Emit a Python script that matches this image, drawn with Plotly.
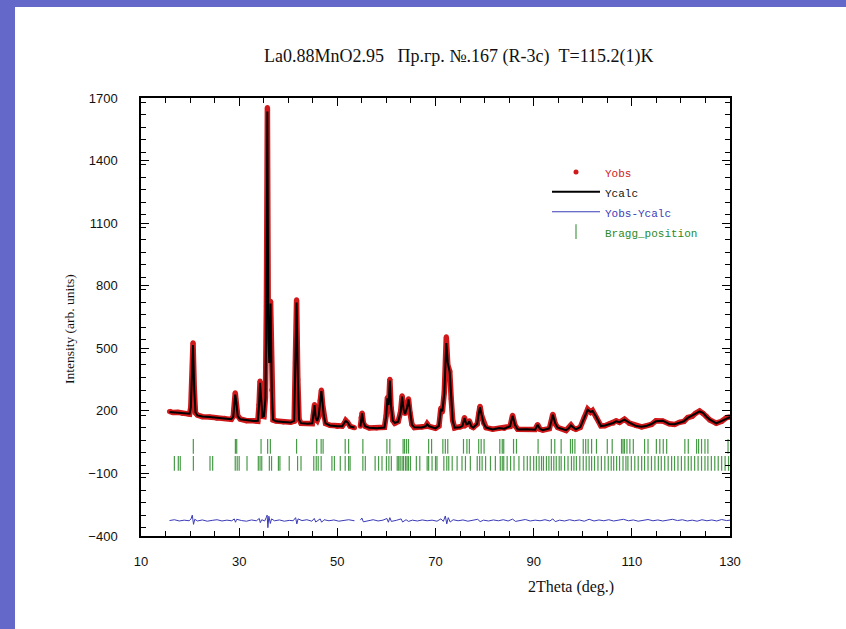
import plotly.graph_objects as go

# ---------------- data ----------------
two_theta = [15.8, 16.5, 17.5, 18.5, 19.5, 19.9, 20.15, 20.35, 20.6, 20.85, 21.1, 21.5, 22.5, 24.0, 25.5,
             27.0, 28.4, 28.8, 29.0, 29.2, 29.45, 29.7, 30.2, 31.5, 33.0, 33.8, 34.05, 34.25, 34.5, 34.75,
             35.05, 35.35, 35.55, 35.75, 35.95, 36.15, 36.4, 36.65, 36.9, 37.5, 39.0, 40.5, 41.2, 41.45,
             41.7, 41.95, 42.2, 42.6, 44.0, 44.9, 45.1, 45.35, 45.6, 45.9, 46.2, 46.5, 46.75, 47.0, 47.25,
             47.6, 48.5, 50.0, 51.0, 51.4, 51.7, 52.1, 52.6, 53.5, 54.1, 54.7, 54.85, 55.05, 55.3, 55.7,
             56.5, 58.0, 59.6, 59.95, 60.2, 60.45, 60.7, 60.95, 61.3, 61.7, 62.4, 62.9, 63.2, 63.5, 63.8,
             64.2, 64.5, 64.8, 65.2, 65.7, 67.2, 68.0, 68.3, 68.7, 70.0, 70.7, 71.1, 71.4, 71.8, 72.2, 72.5,
             72.9, 73.2, 73.5, 73.9, 75.0, 75.5, 75.9, 76.3, 76.6, 76.9, 77.3, 77.7, 78.5, 78.8, 79.07, 79.4,
             79.8, 80.3, 81.65, 83.0, 84.0, 85.2, 85.7, 86.2, 86.75, 88.5, 90.3, 90.8, 91.3, 91.85, 93.2,
             93.6, 93.9, 94.4, 94.9, 96.6, 97.2, 97.6, 98.1, 98.6, 99.5, 100.3, 101.0, 101.6, 102.0, 102.7,
             103.7, 104.5, 105.4, 106.2, 106.8, 107.5, 108.5, 109.5, 110.9, 112.0, 112.9, 114.0, 114.9,
             116.3, 117.6, 118.7, 119.7, 120.6, 121.4, 122.3, 123.0, 123.8, 124.5, 125.2, 125.9, 127.2,
             128.3, 129.3, 130.0]

y_calc = [195, 193, 191, 188, 185, 186, 215, 330, 515, 300, 192, 178, 173, 170, 166,
          163, 160, 172, 215, 278, 235, 175, 160, 155, 151, 152, 225, 335, 235, 172,
          175, 260, 720, 1635, 540, 430, 715, 290, 158, 150, 147, 144, 152, 420,
          720, 360, 158, 141, 138, 140, 175, 228, 165, 152, 175, 245, 295, 235, 175,
          140, 130, 126, 126, 142, 152, 145, 125, 120, None, 125, 165, 188, 145, 125,
          119, 117, 120, 175, 260, 228, 345, 220, 152, 142, 148, 195, 268, 205, 185,
          215, 255, 195, 133, 121, 120, 126, 136, 126, 116, 128, 210, 198, 285, 525, 430,
          385, 262, 152, 119, 121, 128, 165, 136, 138, 150, 126, 119, 138, 185, 218, 180,
          140, 120, 111, 118, 114, 126, 176, 132, 111, 112, 110, 133, 113, 107, 116,
          150, 181, 140, 119, 107, 118, 130, 118, 111, 122, 166, 205, 195, 199, 173,
          127, 130, 135, 142, 150, 146, 158, 143, 127, 124, 127, 137, 150,
          153, 137, 136, 143, 150, 166, 176, 187, 197, 190, 172, 158, 140,
          152, 166, 170]

y_obs = [197, 192, 193, 187, 186, 184, 218, 334, 527, 306, 190, 180, 172, 171, 165,
         164, 159, 174, 212, 287, 230, 177, 161, 153, 152, 150, 228, 343, 230, 174,
         173, 264, 700, 1655, 520, 440, 725, 300, 156, 151, 146, 145, 150, 430,
         733, 350, 160, 140, 139, 139, 178, 230, 162, 154, 172, 250, 300, 230, 177,
         139, 131, 125, 127, 140, 154, 144, 126, 119, None, 126, 168, 190, 142, 126,
         118, 118, 121, 178, 264, 225, 352, 215, 154, 141, 149, 197, 272, 200, 187,
         218, 258, 192, 135, 120, 121, 125, 138, 125, 117, 127, 214, 195, 290, 555, 420,
         390, 258, 155, 118, 122, 127, 168, 134, 139, 152, 125, 120, 137, 188, 222, 177,
         141, 119, 112, 117, 115, 125, 179, 130, 112, 111, 111, 135, 112, 108, 115,
         153, 184, 138, 120, 106, 119, 132, 117, 112, 121, 168, 208, 193, 201, 171,
         128, 129, 137, 140, 152, 145, 160, 141, 128, 123, 128, 135, 152,
         151, 138, 135, 145, 149, 168, 174, 189, 199, 188, 174, 156, 141,
         150, 168, 171]

diff_theta = [15.8, 16.8, 17.8, 18.8, 19.8, 20.2, 20.45, 20.7, 20.95, 21.5, 22.5, 23.5, 24.5, 25.5,
              26.5, 27.5, 28.5, 29.0, 29.25, 29.5, 30.5, 31.5, 32.5, 33.5, 34.1, 34.3, 34.6, 35.2,
              35.5, 35.7, 35.85, 36.05, 36.35, 36.6, 37.2, 38.2, 39.2, 40.2, 41.0, 41.5, 41.75, 42.0,
              42.8, 43.8, 44.8, 45.3, 45.6, 46.5, 46.8, 47.3, 48.3, 49.3, 50.3, 51.3, 52.3, 53.5,
              54.1, 54.7, 55.0, 55.3, 56.3, 57.3, 58.3, 59.3, 60.1, 60.4, 60.7, 61.0, 62.0, 63.0,
              63.3, 64.0, 64.5, 65.3, 66.3, 67.3, 68.3, 69.3, 70.3, 71.1, 71.6, 72.0, 72.3, 72.6,
              73.0, 73.6, 74.6, 75.6, 76.6, 77.6, 78.6, 79.1, 79.8, 80.8, 81.8, 82.8, 83.8, 84.8,
              85.7, 86.3, 87.3, 88.3, 89.3, 90.3, 91.3, 92.3, 93.3, 93.9, 94.4, 95.3, 96.3, 97.3,
              98.3, 99.3, 100.3, 101.3, 102.3, 103.3, 104.3, 105.3, 106.3, 107.3, 108.3, 109.3,
              110.3, 111.3, 112.3, 113.3, 114.3, 115.3, 116.3, 117.3, 118.3, 119.3, 120.3, 121.3,
              122.3, 123.3, 124.3, 125.3, 126.3, 127.3, 128.3, 129.3, 130.0]

y_diff = [-326, -322, -328, -324, -327, -318, -300, -344, -320, -328, -323, -329, -325, -322,
          -328, -324, -327, -318, -334, -320, -326, -329, -323, -327, -316, -336, -322, -328,
          -312, -300, -360, -305, -340, -318, -327, -323, -329, -325, -327, -312, -342, -318,
          -326, -322, -329, -316, -333, -318, -334, -322, -327, -323, -329, -325, -322, -327,
          None, -324, -314, -332, -326, -322, -328, -324, -316, -334, -312, -330, -325, -318,
          -333, -322, -330, -324, -328, -323, -327, -324, -329, -318, -330, -304, -342, -312,
          -333, -322, -327, -323, -329, -324, -320, -331, -324, -328, -323, -327, -322, -328,
          -319, -330, -325, -321, -328, -324, -327, -322, -328, -318, -331, -324, -328, -322,
          -327, -323, -329, -320, -328, -323, -327, -322, -328, -324, -320, -327,
          -323, -329, -324, -321, -327, -323, -328, -324, -320, -326, -322, -328,
          -324, -329, -322, -327, -323, -328, -321, -326, -324]

bragg_phase1 = [20.66, 29.23, 29.5, 34.46, 35.8, 36.36, 41.7, 45.8, 46.7, 47.1, 51.6, 52.3, 55.2,
                60.1, 60.7, 63.4, 63.7, 64.1, 64.5, 68.6, 69.2, 71.5, 72.0, 72.5, 75.7, 76.4, 76.9,
                78.8, 79.3, 79.9, 83.1, 83.6, 83.9, 85.9, 86.5, 90.9, 93.6, 94.3, 95.6, 97.5, 97.9,
                98.4, 100.1, 100.6, 101.1, 101.8, 102.8, 105.0, 106.0, 107.9, 108.2, 108.5, 109.0,
                109.6, 110.3, 112.6, 113.3, 115.0, 115.7, 116.4, 117.1, 120.8, 121.5, 123.2, 123.6,
                124.2, 124.9, 125.5, 129.6]

bragg_phase2 = [16.8, 17.6, 18.0, 20.67, 24.06, 24.6, 29.2, 29.6, 30.0, 31.6, 33.9, 34.25, 34.6,
                36.15, 36.6, 38.0, 38.3, 40.2, 41.9, 42.6, 45.2, 45.7, 46.1, 46.7, 48.9, 49.4, 50.6,
                51.6, 52.3, 52.6, 55.2, 55.7, 57.7, 58.4, 59.1, 60.0, 60.5, 61.0, 62.2, 62.5, 62.8,
                63.2, 63.5, 63.9, 64.2, 64.5, 64.9, 66.1, 66.8, 68.3, 68.6, 69.3, 70.0, 70.3, 71.7,
                72.3, 72.7, 73.4, 74.4, 75.4, 76.1, 77.1, 78.5, 79.0, 79.5, 80.2, 81.2, 82.2, 83.2,
                83.6, 83.9, 84.6, 85.3, 86.0, 87.0, 88.0, 88.7, 89.3, 90.0, 90.55, 91.1, 91.6, 92.0,
                92.6, 93.1, 93.6, 94.1, 94.6, 95.2, 95.6, 96.3, 97.0, 97.7, 98.2, 98.7, 99.4, 100.1,
                100.7, 101.3, 101.8, 102.4, 103.1, 103.8, 104.5, 105.2, 105.8, 106.3, 106.9, 107.5,
                108.2, 108.8, 109.2, 109.9, 110.6, 111.3, 112.0, 112.6, 113.3, 114.0, 114.7, 115.4,
                116.0, 116.7, 117.4, 118.1, 118.7, 119.4, 120.1, 120.8, 121.5, 122.1, 122.8, 123.5,
                124.2, 124.9, 125.5, 126.2, 126.9, 127.6, 128.3, 129.0, 129.7]

bragg_levels = [30, -52]

title_text = "La0.88MnO2.95   Пр.гр. №.167 (R-3c)  T=115.2(1)K"
x_title = "2Theta (deg.)"
y_title = "Intensity (arb. units)"

# ---------------- figure ----------------
W, H = 846, 629
L, R, T, B = 141, 730, 98, 536

RED = "#d0191b"
GREEN = "rgba(25,130,25,0.8)"
BLUE = "#3b3bb8"

def lg(txt, color):
    return '<span style="color:%s;font-size:11px">%s</span>' % (color, txt)

fig = go.Figure()

# Yobs band (dense observed points)
fig.add_trace(go.Scatter(x=two_theta, y=y_obs, mode="lines",
                         line=dict(color=RED, width=5.5), showlegend=False, hoverinfo="skip"))
fig.add_trace(go.Scatter(x=two_theta, y=y_obs, mode="markers",
                         marker=dict(color=RED, size=5),
                         name=lg("Yobs", "#d0191b")))
fig.add_trace(go.Scatter(x=two_theta, y=y_calc, mode="lines",
                         line=dict(color="black", width=2),
                         name=lg("Ycalc", "#111111")))
fig.add_trace(go.Scatter(x=diff_theta, y=y_diff, mode="lines",
                         line=dict(color=BLUE, width=1),
                         name=lg("Yobs-Ycalc", "#3b3bb8")))
fig.add_trace(go.Scatter(x=bragg_phase1, y=[bragg_levels[0]] * len(bragg_phase1), mode="markers",
                         marker=dict(symbol="line-ns-open", size=10.5, color=GREEN,
                                     line=dict(color=GREEN, width=1.2)),
                         name=lg("Bragg_position", "#2a8a2a")))
fig.add_trace(go.Scatter(x=bragg_phase2, y=[bragg_levels[1]] * len(bragg_phase2), mode="markers",
                         marker=dict(symbol="line-ns-open", size=10.5, color=GREEN,
                                     line=dict(color=GREEN, width=1.2)),
                         showlegend=False))

def px_x(p):
    return (p - L) / (R - L)

def px_y(p):
    return (B - p) / (B - T)

axis_common = dict(showline=True, linecolor="black", linewidth=1.5, mirror="ticks",
                   ticks="inside", ticklen=8, tickwidth=1.3, tickcolor="black",
                   showgrid=False, zeroline=False,
                   tickfont=dict(family="Liberation Sans, Arial", size=13, color="#111"))

fig.update_xaxes(range=[10, 130], tick0=10, dtick=20, ticklabelstandoff=13,
                 minor=dict(dtick=5, ticks="inside", ticklen=5, tickcolor="black", tickwidth=1),
                 **axis_common)
fig.update_yaxes(range=[-400, 1700], tick0=-400, dtick=300, ticklabelstandoff=19,
                 minor=dict(dtick=60, ticks="inside", ticklen=5, tickcolor="black", tickwidth=1),
                 **axis_common)

annotations = [
    dict(text=title_text, x=px_x(459), y=px_y(57), xref="paper", yref="paper",
         showarrow=False, xanchor="center", yanchor="middle",
         font=dict(family="Liberation Serif, Times New Roman", size=18, color="#111")),
    dict(text=x_title, x=px_x(571), y=px_y(587), xref="paper", yref="paper",
         showarrow=False, xanchor="center", yanchor="middle",
         font=dict(family="Liberation Serif, Times New Roman", size=16, color="#111")),
    dict(text=y_title, x=px_x(69), y=px_y(329), xref="paper", yref="paper",
         showarrow=False, xanchor="center", yanchor="middle", textangle=-90,
         font=dict(family="Liberation Serif, Times New Roman", size=13.5, color="#111")),
]

shapes = [
    dict(type="rect", xref="paper", yref="paper", layer="below",
         x0=px_x(15), x1=px_x(900), y0=px_y(7), y1=px_y(700),
         fillcolor="white", line=dict(width=0)),
]

fig.update_layout(
    width=W, height=H,
    margin=dict(l=L, r=W - R, t=T, b=H - B, pad=0),
    paper_bgcolor="#6468c8", plot_bgcolor="white",
    annotations=annotations, shapes=shapes,
    legend=dict(x=px_x(547), y=px_y(157), xanchor="left", yanchor="top",
                bgcolor="rgba(0,0,0,0)", borderwidth=0,
                font=dict(family="Liberation Mono, Courier New, monospace", size=13, color="#222"),
                itemwidth=48),
    showlegend=True,
)

fig.write_html("out.html", config={"displayModeBar": False},
               post_script="document.body.style.margin='0px';")
